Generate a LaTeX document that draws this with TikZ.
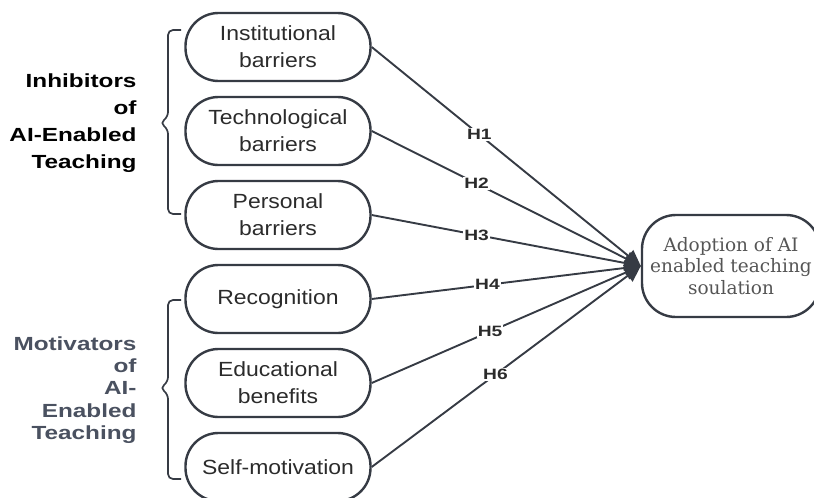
\documentclass[tikz,border=0pt]{standalone}
\usepackage{fontspec}
\setmainfont{Liberation Sans}[FakeStretch=1.12]
\newfontfamily\labfont{Liberation Sans}[FakeStretch=1.28]
\newfontfamily\serfont{DejaVu Serif}
\usetikzlibrary{arrows.meta}
\definecolor{stroke}{HTML}{363B44}
\definecolor{ink}{HTML}{2B2B2B}
\definecolor{motgray}{HTML}{4A5160}
\definecolor{sergray}{HTML}{555555}
\tikzset{
  factor/.style={draw=stroke, line width=2.4pt, rounded corners=33pt,
    minimum width=185pt, minimum height=68pt, text=ink, align=center,
    font=\fontsize{20.5}{27}\selectfont, inner sep=0pt},
  outcome/.style={draw=stroke, line width=2.4pt, rounded corners=34pt,
    minimum width=178pt, minimum height=102pt, text=sergray, align=center,
    font=\serfont\fontsize{18.5}{21.5}\selectfont, inner sep=0pt},
  group/.style={anchor=east, align=right, font=\labfont\bfseries\fontsize{19}{27}\selectfont},
  link/.style={draw=stroke, line width=1.9pt, -{Triangle[length=16pt,width=15pt]}},
  hyp/.style={fill=white, inner sep=1pt, text=ink, font=\labfont\bfseries\fontsize{15}{17}\selectfont},
  bracket/.style={draw=stroke, line width=1.7pt, rounded corners=5pt}
}
\begin{document}
\begin{tikzpicture}[x=1pt,y=-1pt]
\useasboundingbox (0,0) rectangle (814,498);
\begin{scope}
\clip (0,0) rectangle (814,498);

% factor boxes
\node[factor] (inst) at (278,47)  {Institutional\\barriers};
\node[factor] (tech) at (278,131) {Technological\\barriers};
\node[factor] (pers) at (278,215) {Personal\\barriers};
\node[factor] (reco) at (278,299) {Recognition};
\node[factor] (educ) at (278,383) {Educational\\benefits};
\node[factor] (self) at (278,467) {Self-motivation};

% outcome
\node[outcome] (adopt) at (731,266) {Adoption of AI\\enabled teaching\\soulation};

% group labels
\node[group, text=black] (inh) at (140,123) {Inhibitors\\of\\AI-Enabled\\Teaching};
\node[group, text=motgray, font=\labfont\bfseries\fontsize{19}{22.3}\selectfont] (mot) at (140,390) {Motivators\\of\\AI-\\Enabled\\Teaching};

% braces
\draw[bracket] (181,30) -- (168,30) -- (168,117) -- (160,123) -- (168,129) -- (168,214) -- (181,214);
\draw[bracket] (181,300) -- (168,300) -- (168,382) -- (160,388) -- (168,394) -- (168,479) -- (181,479);

% hypotheses
\draw[link] (inst.east) -- node[hyp, pos=0.40] {H1} (adopt.west);
\draw[link] (tech.east) -- node[hyp, pos=0.39] {H2} (adopt.west);
\draw[link] (pers.east) -- node[hyp, pos=0.39] {H3} (adopt.west);
\draw[link] (reco.east) -- node[hyp, pos=0.43] {H4} (adopt.west);
\draw[link] (educ.east) -- node[hyp, pos=0.44] {H5} (adopt.west);
\draw[link] (self.east) -- node[hyp, pos=0.46] {H6} (adopt.west);
\end{scope}
\end{tikzpicture}
\end{document}
